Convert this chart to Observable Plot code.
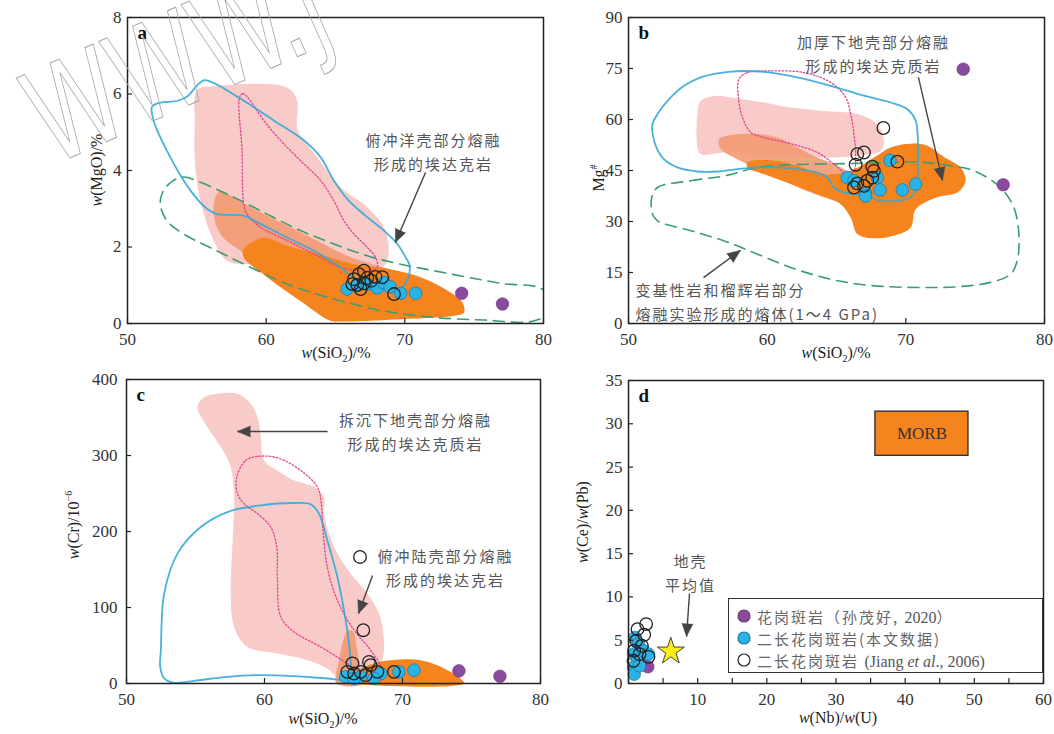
<!DOCTYPE html>
<html><head><meta charset="utf-8">
<script src="https://cdn.jsdelivr.net/npm/d3@7"></script>
<script src="https://cdn.jsdelivr.net/npm/@observablehq/plot@0.6"></script>
<style>
body{margin:0;background:#fff;}
#wrap{position:relative;width:1054px;height:734px;overflow:hidden;font-family:"Liberation Serif",serif;background:#fff;}
.panel{position:absolute;}
.lab{position:absolute;font-size:16px;color:#222;white-space:nowrap;font-family:"Liberation Serif",serif;}
.lab sub{font-size:10px;}
.lab sup{font-size:10px;}
.rot{transform:translate(-50%,-50%) rotate(-90deg);}
.hc{transform:translate(-50%,-50%);}
g[font-family*="Noto"] text{letter-spacing:2px;}
#legend{position:absolute;left:728px;top:598px;width:313px;height:73px;border:1.5px solid #333;background:#fff;}
#legend .row{position:absolute;left:8px;height:20px;display:flex;align-items:center;font-family:"Noto Sans CJK SC",sans-serif;font-size:15px;color:#666;letter-spacing:2px;white-space:nowrap;}
#legend .row svg{margin-right:6px;}
#legend .lat{font-family:"Liberation Serif",serif;letter-spacing:0;font-size:16px;color:#555;}
#wm{position:absolute;left:0;top:0;pointer-events:none;}
</style></head><body><div id="wrap"></div>
<script>
// ---------------- data ----------------
// Panel a: w(SiO2) vs w(MgO)
const pinkA = [[55.01,6.10],[56.21,6.20],[61.51,6.17],[62.23,5.83],[62.28,5.05],[63.68,4.35],[65.36,3.56],[67.29,3.04],[68.61,2.43],[68.78,1.73],[68.25,1.42],[64.88,1.47],[61.51,1.64],[58.86,1.55],[57.18,1.64],[56.21,2.17],[55.37,3.04],[54.89,4.08],[54.85,5.3]];
const salmonA = [[56.33,3.30],[56.69,3.46],[57.66,3.30],[59.10,3.00],[61.03,2.65],[63.44,2.21],[65.84,1.77],[68.01,1.51],[68.97,1.38],[68.73,1.12],[64.88,1.03],[60.07,1.47],[58.14,1.90],[56.69,2.34],[56.21,2.86]];
const orangeA = [[58.38,1.95],[59.82,2.24],[61.51,2.03],[63.68,1.82],[66.33,1.55],[68.97,1.42],[71.14,1.21],[73.07,0.86],[74.15,0.55],[74.27,0.29],[73.55,0.20],[69.70,0.11],[65.36,0.05],[64.64,0.07],[62.47,0.59],[60.07,1.21],[58.38,1.73]];
const blueA = [[51.76,5.66],[52.12,5.75],[53.68,5.83],[54.33,5.94],[54.96,6.20],[55.54,6.36],[56.21,6.29],[58.14,5.88],[60.55,5.31],[62.71,4.79],[63.92,4.35],[64.88,3.74],[65.96,3.21],[67.29,2.78],[68.49,2.43],[69.46,2.08],[70.06,1.73],[70.32,1.55],[70.27,1.21],[69.82,0.94],[69.22,0.81],[65.96,1.29],[65.36,1.47],[63.44,1.90],[61.51,2.25],[59.34,2.65],[58.38,2.82],[56.45,2.86],[55.73,3.00],[54.53,3.48],[52.84,4.52],[51.88,5.31]];
const magentaA = [[58.09,5.92],[58.33,6.01],[58.74,5.88],[59.82,5.31],[61.03,4.79],[62.47,4.26],[63.92,3.74],[64.88,3.21],[65.60,2.69],[66.33,2.34],[67.29,1.99],[67.89,1.73],[68.01,1.47],[67.29,1.38],[65.36,1.47],[63.44,1.82],[61.51,2.17],[59.58,2.52],[58.62,2.86],[58.38,3.13],[58.26,4.52]];
const greenA = [[54.05,3.83],[55.25,3.69],[57.66,3.30],[60.07,2.86],[62.47,2.43],[64.88,2.08],[67.29,1.77],[69.70,1.55],[72.10,1.38],[74.51,1.21],[76.92,1.05],[80.05,0.86],[80.17,0.24],[79.09,0.05],[75.72,0.09],[72.10,0.16],[68.49,0.33],[64.88,0.64],[61.51,1.03],[58.86,1.47],[56.45,1.90],[54.05,2.34],[52.84,2.69],[52.36,3.13],[52.60,3.48],[53.32,3.74]];
const purpleA = [[74.10,0.79],[77.04,0.51]];
const cyanA = [[65.84,0.90],[66.57,0.99],[67.29,1.03],[68.01,0.93],[68.49,1.07],[68.93,0.96],[69.70,0.79],[70.78,0.79]];
const openA = [[66.33,1.16],[66.69,1.29],[67.05,1.38],[67.29,1.19],[66.57,1.01],[67.05,1.05],[67.58,1.12],[67.89,1.22],[68.37,1.21],[66.81,0.90],[69.22,0.77],[66.21,1.03]];
const noteA = [{x:72.07, y:4.52, text:"俯冲洋壳部分熔融\n形成的埃达克岩"}];
const arrowA = [{x1:71.49, y1:3.95, x2:69.32, y2:2.12}];

// Panel b: w(SiO2) vs Mg#
const pinkB = [[55.21,65.5],[56.41,67.0],[57.37,66.5],[59.78,65.0],[61.70,63.5],[64.10,62.5],[66.50,61.6],[67.94,58.6],[68.42,53.7],[68.18,50.8],[66.50,49.3],[64.10,48.8],[61.70,49.3],[59.30,49.8],[56.89,50.3],[55.21,49.8],[54.97,51.8],[54.97,61.6]];
const salmonB = [[56.53,54.2],[57.61,55.5],[59.30,55.7],[60.74,54.7],[62.18,51.8],[63.62,48.8],[64.82,46.9],[66.02,43.9],[66.50,40.0],[66.26,36.6],[65.06,36.1],[63.14,38.5],[61.22,42.0],[59.30,45.4],[57.61,48.8],[56.65,51.3]];
const orangeB = [[58.58,47.4],[60.26,48.0],[62.18,46.4],[64.10,43.9],[66.02,44.9],[67.70,48.8],[68.90,51.8],[70.35,52.9],[71.55,52.3],[72.75,49.0],[73.95,45.9],[74.31,42.0],[73.71,38.5],[72.27,37.1],[70.71,33.6],[70.35,28.2],[69.14,25.8],[67.46,25.1],[66.50,26.3],[66.02,31.2],[65.30,35.1],[63.62,38.0],[61.70,41.0],[59.78,43.9],[58.58,45.9]];
const blueB = [[51.73,58.6],[52.09,61.6],[52.93,66.0],[54.01,69.9],[55.21,72.4],[57.37,74.1],[59.78,74.0],[62.18,72.4],[64.58,69.9],[66.98,67.0],[68.90,65.0],[70.11,63.0],[70.71,59.6],[70.87,53.7],[70.87,45.9],[70.78,40.0],[70.35,37.1],[69.39,36.1],[68.18,36.1],[67.46,37.1],[66.26,38.0],[65.54,38.5],[64.82,40.0],[64.34,42.9],[63.62,44.4],[62.18,45.4],[60.74,45.9],[59.30,45.9],[57.85,45.4],[56.41,44.7],[54.97,44.7],[53.53,45.9],[52.45,48.8],[51.85,53.7]];
const magentaB = [[57.97,71.9],[58.58,73.8],[60.26,74.3],[62.66,73.8],[64.58,70.9],[65.66,66.5],[66.02,61.6],[66.26,55.7],[66.38,49.8],[66.26,44.9],[65.78,43.9],[64.82,46.9],[63.62,50.3],[61.70,52.9],[59.78,54.7],[58.82,56.2],[58.22,60.6],[57.93,66.5]];
const greenB = [[52.09,40.0],[54.49,42.0],[56.89,43.4],[59.30,45.9],[61.70,46.7],[64.10,46.9],[66.50,47.1],[68.90,47.4],[71.31,47.4],[73.23,46.4],[74.91,44.9],[76.83,40.0],[77.79,34.1],[78.15,26.3],[78.03,18.4],[77.55,14.5],[76.11,12.1],[73.71,10.8],[71.31,10.6],[68.90,10.8],[66.50,11.6],[64.10,13.5],[61.70,16.5],[59.30,20.4],[56.89,24.3],[54.49,27.3],[52.09,30.2],[51.73,32.2],[51.68,37.1]];
const purpleB = [[74.14,74.8],[77.02,40.8]];
const cyanB = [[65.78,42.9],[66.26,42.0],[67.10,38.2],[68.14,39.3],[68.86,48.0],[69.75,39.3],[70.71,41.0],[67.94,42.9],[67.10,37.5]];
const openB = [[68.38,57.5],[69.39,47.6],[66.5,49.8],[66.98,50.3],[66.38,46.7],[67.58,46.1],[67.70,44.9],[66.5,41.2],[67.22,42.0],[66.26,40.0],[66.98,40.5],[67.58,42.9]];
const noteB = [{x:67.67, y:79.7, text:"加厚下地壳部分熔融\n形成的埃达克质岩", anchor:"middle"}];
const noteB2 = [{x:50.5, y:6.8, text:"变基性岩和榴辉岩部分\n熔融实验形成的熔体(1～4 GPa)"}];
const arrowB = [{x1:70.91, y1:72.4, x2:72.64, y2:42.1},{x1:55.41, y1:13.5, x2:58.07, y2:21.5}];

// Panel c: w(SiO2) vs w(Cr)
const pinkC = [[55.14,363.6],[55.62,376.8],[56.59,381.2],[58.04,381.2],[59.00,368.0],[59.49,350.5],[59.73,324.2],[59.97,293.5],[60.93,280.4],[62.14,267.3],[63.59,258.5],[64.31,245.3],[64.31,223.4],[65.04,179.6],[66.24,144.6],[67.45,118.3],[68.30,92.0],[68.66,57.0],[68.54,30.7],[67.93,4.4],[66.49,0],[65.28,8.8],[64.55,19.7],[63.11,30.7],[60.93,39.4],[58.76,48.2],[57.80,74.5],[57.55,118.3],[57.68,184.0],[57.80,241.0],[57.55,284.8],[56.83,311.1],[55.87,337.3]];
const salmonC = [[65.23,0],[65.40,30.7],[65.71,57.0],[66.05,70.1],[66.44,67.9],[66.68,48.2],[66.97,17.5],[67.21,0]];
const orangeC = [[66.00,3.5],[66.97,19.7],[68.42,28.5],[69.86,31.5],[71.31,30.7],[72.52,24.1],[73.48,15.3],[74.21,6.6],[74.45,0],[66.5,0]];
const blueC = [[52.49,43.8],[52.73,118.3],[53.69,170.9],[55.38,205.9],[57.31,225.6],[59.73,234.4],[62.14,237.5],[63.35,235.7],[63.95,223.4],[64.55,188.4],[65.28,140.2],[65.76,96.4],[66.12,52.6],[66.24,13.1],[66.00,5.3],[64.55,6.6],[62.14,9.6],[59.73,11.0],[57.31,8.8],[54.90,3.5],[53.45,0.9],[52.73,6.6],[52.44,21.9]];
const magentaC = [[57.99,271.6],[58.64,293.5],[59.49,298.8],[60.93,297.0],[62.62,280.4],[63.83,258.5],[64.12,236.6],[64.22,205.9],[64.55,153.3],[65.28,109.5],[66.49,70.1],[67.69,43.8],[68.54,17.5],[68.42,4.4],[67.45,8.8],[66.00,26.3],[64.07,48.2],[62.14,67.9],[61.18,87.6],[60.93,140.2],[60.89,179.6],[60.45,205.9],[59.49,223.4],[58.52,236.6],[58.04,249.7]];
const purpleC = [[74.09,16.6],[77.06,9.6]];
const cyanC = [[65.88,8.8],[66.97,8.8],[68.42,13.1],[69.74,15.3],[70.83,17.5],[66.49,6.6],[67.93,6.6]];
const openC = [[66.92,166.5],[67.16,70.1],[66.37,26.3],[67.57,28.5],[66.97,15.3],[66.49,13.1],[67.33,11.0],[68.18,15.3],[69.38,15.3],[67.69,24.1],[66.0,15.3]];
const noteC = [{x:70.94, y:333, text:"拆沉下地壳部分熔融\n形成的埃达克质岩"},{x:73.12, y:154, text:"俯冲陆壳部分熔融\n形成的埃达克岩"}];
const arrowC = [{x1:64.57, y1:331.6, x2:58.04, y2:331.6},{x1:67.83, y1:142.1, x2:66.81, y2:92.1}];

// Panel d: w(Nb)/w(U) vs w(Ce)/w(Pb)
const purpleD = [[2.80,1.93],[1.93,2.62]];
const cyanD = [[0.96,5.32],[1.45,4.55],[0.72,3.39],[1.30,2.81],[0.72,1.85],[0.82,1.08],[2.17,3.78],[2.89,3.39],[1.59,2.04]];
const openD = [[2.55,6.86],[1.30,6.28],[2.27,5.63],[1.11,4.93],[1.93,4.36],[0.82,3.78],[2.89,3.08],[1.59,3.39],[0.72,2.62]];
const crustAvg = [{x:6.12, y:3.70}];
const morb = [{x1:35.7, x2:49.15, y1:26.3, y2:31.4, label:"MORB"}];
const noteD = [{x:8.96, y:12.94, text:"地壳\n平均值"}];
const arrowD = [{x1:8.82, y1:10.4, x2:8.39, y2:5.43}];

// tick values
const xTicksSi = [50,60,70,80];
const yTicksA = [0,2,4,6,8];
const yTicksB = [0,15,30,45,60,75,90];
const yTicksC = [0,100,200,300,400];
const xTickMarksD = d3.range(0,61,5);
const xTickLabelsD = [10,20,30,40,50,60];
const yTicksD = [0,5,10,15,20,25,30,35];

// ---------------- styles ----------------
const C = {pink:"#f9cbc8", salmon:"#f29a72", orange:"#f5841f", blue:"#34a8da", magenta:"#e0458f", green:"#3a9e70",
  purple:"#8a4b9e", cyan:"#2ab4e6", open:"#222", arrow:"#444", note:"#555"};
const CJK = "Noto Sans CJK SC";

function fieldMarks(pink, salmon, orange, green, magenta, blue) {
  const xy = {x: d => d[0], y: d => d[1]};
  const m = [];
  if (pink) m.push(Plot.line(pink, {...xy, curve:"catmull-rom-closed", fill:C.pink, stroke:"none"}));
  if (salmon) m.push(Plot.line(salmon, {...xy, curve:"catmull-rom-closed", fill:C.salmon, stroke:"none", fillOpacity:0.9}));
  if (orange) m.push(Plot.line(orange, {...xy, curve:"catmull-rom-closed", fill:C.orange, stroke:"none"}));
  if (green) m.push(Plot.line(green, {...xy, curve:"catmull-rom-closed", stroke:C.green, strokeWidth:1.6, strokeDasharray:"11,7", clip:true}));
  if (magenta) m.push(Plot.line(magenta, {...xy, curve:"catmull-rom-closed", stroke:C.magenta, strokeWidth:1.3, strokeDasharray:"1.5,2"}));
  if (blue) m.push(Plot.line(blue, {...xy, curve:"catmull-rom-closed", stroke:C.blue, strokeWidth:1.8, strokeOpacity:0.9}));
  return m;
}
function pointMarks(cyan, open, purple) {
  const xy = {x: d => d[0], y: d => d[1]};
  return [
    Plot.dot(purple, {...xy, r:6.3, fill:C.purple, stroke:"#6b3a7d", strokeWidth:0.6}),
    Plot.dot(cyan, {...xy, r:6.3, fill:C.cyan, stroke:"#1d7aa6", strokeWidth:0.8}),
    Plot.dot(open, {...xy, r:6.3, fill:"none", stroke:C.open, strokeWidth:1.3})
  ];
}
function arrowMarks(arr, xd, yd, fw, fh) {
  const kx = fw/(xd[1]-xd[0]), ky = fh/(yd[1]-yd[0]);
  const a2 = arr.map(a => ({...a, rot: Math.atan2(-(a.y2-a.y1)*ky, (a.x2-a.x1)*kx)*180/Math.PI + 90}));
  return [
    Plot.link(a2, {x1:"x1", y1:"y1", x2:"x2", y2:"y2", stroke:C.arrow, strokeWidth:1.4}),
    Plot.vector(a2, {x:"x2", y:"y2", rotate:"rot", length:13, r:5.5, shape:"spike", anchor:"end", fill:C.arrow, stroke:C.arrow, strokeWidth:0.5})
  ];
}
function noteMark(notes, anchor="middle") {
  return Plot.text(notes, {x:"x", y:"y", text:"text", fontFamily:CJK, fontSize:15, fill:C.note, lineHeight:1.6, textAnchor:anchor});
}
function letterMark(l) {
  return Plot.text([l], {text: d => d, frameAnchor:"top-left", dx:10, dy:8, fontSize:19, fontWeight:"bold", fill:"#111", textAnchor:"start", lineAnchor:"top", fontFamily:"Liberation Serif"});
}

function makePanel(cfg) {
  const {W,H,ml,mr,mt,mb,xd,yd,xt,xl,yt,marks,left,top} = cfg;
  const fw = W-ml-mr, fh = H-mt-mb;
  const p = Plot.plot({
    width:W, height:H, marginLeft:ml, marginRight:mr, marginTop:mt, marginBottom:mb,
    x:{domain:xd}, y:{domain:yd},
    style:{fontFamily:"Liberation Serif, serif", fontSize:"17px", color:"#333", background:"transparent", overflow:"visible"},
    marks:[
      ...marks(fw, fh),
      Plot.frame({stroke:"#222", strokeWidth:1.5}),
      Plot.ruleX(xt, {insetTop: fh-5, stroke:"#222", strokeWidth:1.2}),
      Plot.ruleY(yt, {insetRight: fw-5, stroke:"#222", strokeWidth:1.2}),
      Plot.axisX({ticks:xl, tickSize:0, tickPadding:9, label:null, fill:"#333"}),
      Plot.axisY({ticks:yt, tickSize:0, tickPadding:cfg.yPad ?? 6, label:null, fill:"#333"})
    ]
  });
  const d = document.createElement("div");
  d.className = "panel"; d.style.left = left+"px"; d.style.top = top+"px";
  d.appendChild(p);
  return d;
}

const wrap = document.getElementById("wrap");

// Panel a
const xdA=[50,80], ydA=[0,8];
wrap.appendChild(makePanel({left:0, top:0, W:560, H:360, ml:127, mr:17, mt:17, mb:37, xd:xdA, yd:ydA, xt:xTicksSi, xl:xTicksSi, yt:yTicksA,
  marks:(fw,fh)=>[...fieldMarks(pinkA, salmonA, orangeA, greenA, magentaA, blueA), ...pointMarks(cyanA, openA, purpleA),
    noteMark(noteA), ...arrowMarks(arrowA, xdA, ydA, fw, fh), letterMark("a")]}));

// Panel b
const xdB=[50,80], ydB=[0,90];
wrap.appendChild(makePanel({left:560, top:0, W:494, H:360, ml:68, mr:10, mt:17, mb:37, xd:xdB, yd:ydB, xt:xTicksSi, xl:xTicksSi, yt:yTicksB,
  marks:(fw,fh)=>[...fieldMarks(pinkB, salmonB, orangeB, greenB, magentaB, blueB), ...pointMarks(cyanB, openB, purpleB),
    noteMark(noteB), noteMark(noteB2, "start"), ...arrowMarks(arrowB, xdB, ydB, fw, fh), letterMark("b")]}));

// Panel c
const xdC=[50,80], ydC=[0,400];
wrap.appendChild(makePanel({left:0, top:360, W:560, H:374, ml:126, mr:20, mt:19, mb:51, xd:xdC, yd:ydC, xt:xTicksSi, xl:xTicksSi, yt:yTicksC, yPad:9,
  marks:(fw,fh)=>[...fieldMarks(pinkC, salmonC, orangeC, null, magentaC, blueC), ...pointMarks(cyanC, openC, purpleC),
    noteMark(noteC), ...arrowMarks(arrowC, xdC, ydC, fw, fh), letterMark("c")]}));

// Panel d
const xdD=[0,60], ydD=[0,35];
wrap.appendChild(makePanel({left:560, top:360, W:494, H:374, ml:68, mr:11, mt:20, mb:51, xd:xdD, yd:ydD, xt:xTickMarksD, xl:xTickLabelsD, yt:yTicksD,
  marks:(fw,fh)=>[
    Plot.rect(morb, {x1:"x1", x2:"x2", y1:"y1", y2:"y2", fill:C.orange, stroke:"#333", strokeWidth:1.4}),
    Plot.text(morb, {x: d => (d.x1+d.x2)/2, y: d => (d.y1+d.y2)/2, text:"label", fontSize:17, fill:"#333", fontFamily:"Liberation Serif"}),
    ...pointMarks(cyanD, openD, purpleD),
    Plot.dot(crustAvg, {x:"x", y:"y", symbol:"star", r:8.5, fill:"#f9ee1a", stroke:"#444", strokeWidth:1}),
    noteMark(noteD), ...arrowMarks(arrowD, xdD, ydD, fw, fh), letterMark("d")]}));

// axis labels
const labels = [
  {html:'<i>w</i>(SiO<sub>2</sub>)/%', x:336, y:354, cls:"hc"},
  {html:'<i>w</i>(SiO<sub>2</sub>)/%', x:836, y:354, cls:"hc"},
  {html:'<i>w</i>(SiO<sub>2</sub>)/%', x:323, y:720, cls:"hc"},
  {html:'<i>w</i>(Nb)/<i>w</i>(U)', x:838, y:718, cls:"hc"},
  {html:'<i>w</i>(MgO)/%', x:97, y:170, cls:"rot"},
  {html:'Mg<sup>#</sup>', x:598, y:178, cls:"rot"},
  {html:'<i>w</i>(Cr)/10<sup>−6</sup>', x:73, y:525, cls:"rot"},
  {html:'<i>w</i>(Ce)/<i>w</i>(Pb)', x:583, y:522, cls:"rot"}
];
for (const l of labels) {
  const e = document.createElement("div");
  e.className = "lab " + l.cls; e.innerHTML = l.html;
  e.style.left = l.x+"px"; e.style.top = l.y+"px";
  wrap.appendChild(e);
}

// legend
const legendItems = [
  {fill:C.purple, stroke:"#6b3a7d", html:'花岗斑岩（孙茂好, <span class="lat">2020</span>）'},
  {fill:C.cyan, stroke:"#1d7aa6", html:'二长花岗斑岩(本文数据)'},
  {fill:"none", stroke:"#222", html:'二长花岗斑岩 <span class="lat">(Jiang <i>et al</i>., 2006)</span>'}
];
const lg = document.createElement("div"); lg.id = "legend";
legendItems.forEach((it,i) => {
  const r = document.createElement("div"); r.className = "row"; r.style.top = (7 + i*22) + "px";
  r.innerHTML = `<svg width="14" height="14"><circle cx="7" cy="7" r="6" fill="${it.fill}" stroke="${it.stroke}" stroke-width="1.2"/></svg><span>${it.html}</span>`;
  lg.appendChild(r);
});
wrap.appendChild(lg);

// watermark (outlined, rotated)
const wm = document.createElementNS("http://www.w3.org/2000/svg","svg");
wm.setAttribute("id","wm"); wm.setAttribute("width","560"); wm.setAttribute("height","220");
wm.innerHTML = '<text x="0" y="0" transform="translate(52,166) rotate(-24) scale(0.78,1)" font-family="DejaVu Sans Condensed, DejaVu Sans" font-size="130" fill="none" stroke="#a8a8a8" stroke-width="1">WWW.j</text>';
wrap.appendChild(wm);
</script></body></html>
